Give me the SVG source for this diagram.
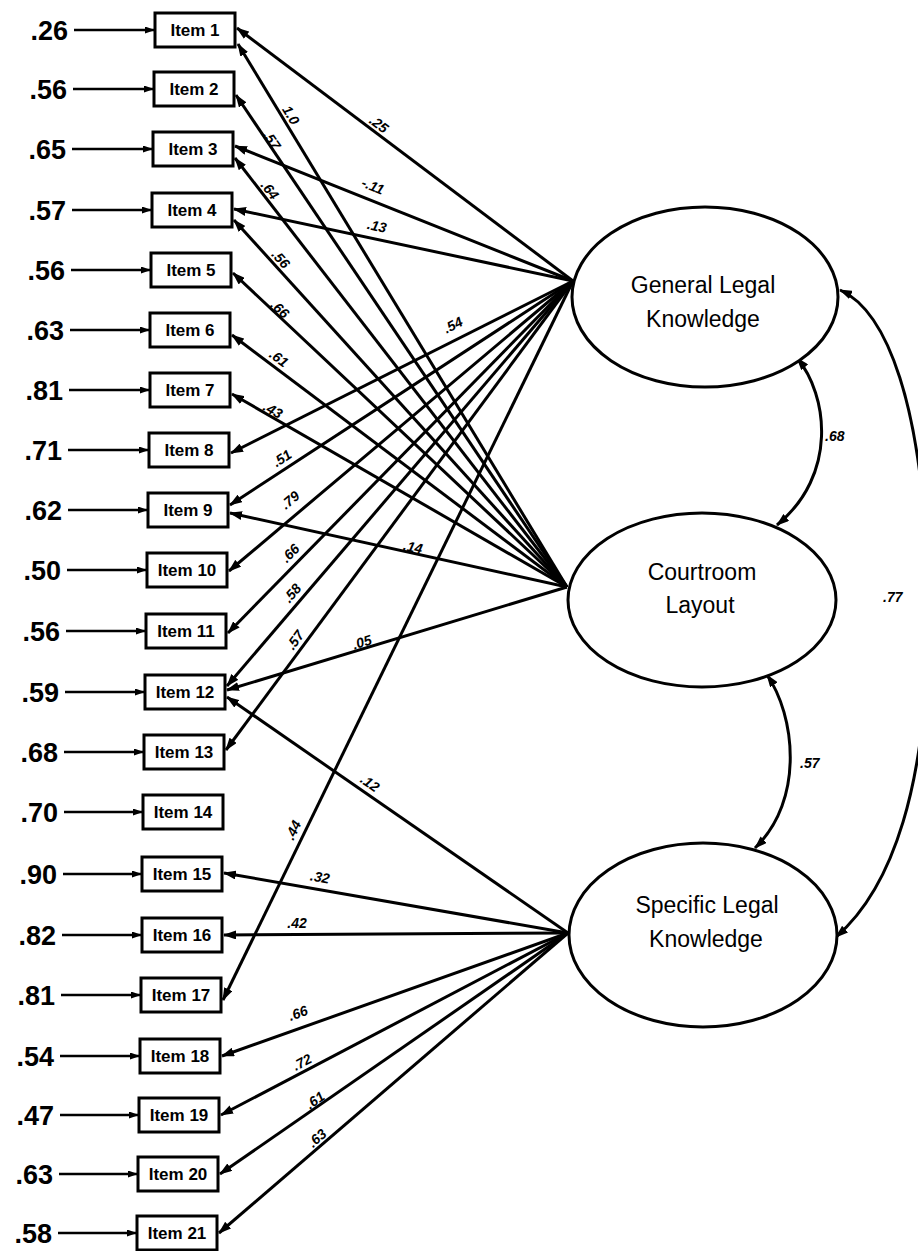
<svg xmlns="http://www.w3.org/2000/svg" width="918" height="1251" viewBox="0 0 918 1251">
<defs>
<marker id="ah" markerUnits="userSpaceOnUse" markerWidth="13" markerHeight="9" refX="12" refY="4.5" orient="auto-start-reverse"><path d="M0,0 L13,4.5 L0,9 z" fill="#000"/></marker>
<marker id="as" markerUnits="userSpaceOnUse" markerWidth="10" markerHeight="7" refX="9" refY="3.5" orient="auto"><path d="M0,0 L10,3.5 L0,7 z" fill="#000"/></marker>
<style>
.ld{stroke:#000;stroke-width:3;fill:none;marker-end:url(#ah)}
.er{stroke:#000;stroke-width:2.5;fill:none;marker-end:url(#as)}
.cv{stroke:#000;stroke-width:3;fill:none;marker-start:url(#ah);marker-end:url(#ah)}
.box{fill:#fff;stroke:#000;stroke-width:3}
.lat{fill:#fff;stroke:#000;stroke-width:3}
.it{font-family:"Liberation Sans",Arial,sans-serif;font-weight:bold;font-size:17px;text-anchor:middle}
.ev{font-family:"Liberation Sans",Arial,sans-serif;font-weight:bold;font-size:27px;text-anchor:end}
.lt{font-family:"Liberation Sans",Arial,sans-serif;font-size:23px;text-anchor:middle}
.lb{font-family:"Liberation Sans",Arial,sans-serif;font-weight:bold;font-style:italic;font-size:14px;text-anchor:middle}
.cl{font-family:"Liberation Sans",Arial,sans-serif;font-weight:bold;font-style:italic;font-size:14px}
</style>
</defs>
<g id="connectors">
<line class="er" x1="74" y1="30" x2="154" y2="30"/>
<line class="er" x1="73" y1="89" x2="153" y2="89"/>
<line class="er" x1="72" y1="149" x2="152" y2="149"/>
<line class="er" x1="72" y1="210" x2="151" y2="210"/>
<line class="er" x1="71" y1="270" x2="150" y2="270"/>
<line class="er" x1="70" y1="330" x2="149" y2="330"/>
<line class="er" x1="69" y1="390" x2="149" y2="390"/>
<line class="er" x1="68" y1="450" x2="148" y2="450"/>
<line class="er" x1="68" y1="510" x2="147" y2="510"/>
<line class="er" x1="67" y1="570" x2="146" y2="570"/>
<line class="er" x1="66" y1="631" x2="145" y2="631"/>
<line class="er" x1="65" y1="692" x2="144" y2="692"/>
<line class="er" x1="64" y1="752" x2="143" y2="752"/>
<line class="er" x1="64" y1="812" x2="142" y2="812"/>
<line class="er" x1="63" y1="874" x2="141" y2="874"/>
<line class="er" x1="62" y1="935" x2="141" y2="935"/>
<line class="er" x1="61" y1="995" x2="140" y2="995"/>
<line class="er" x1="60" y1="1056" x2="139" y2="1056"/>
<line class="er" x1="60" y1="1115" x2="138" y2="1115"/>
<line class="er" x1="59" y1="1174" x2="137" y2="1174"/>
<line class="er" x1="58" y1="1233" x2="136" y2="1233"/>

<line class="ld" x1="573" y1="281" x2="237" y2="28"/>
<line class="ld" x1="567" y1="587" x2="238" y2="44"/>
<line class="ld" x1="567" y1="587" x2="236" y2="95"/>
<line class="ld" x1="573" y1="281" x2="235" y2="146"/>
<line class="ld" x1="567" y1="587" x2="235" y2="158"/>
<line class="ld" x1="573" y1="281" x2="234" y2="209"/>
<line class="ld" x1="567" y1="587" x2="234" y2="220"/>
<line class="ld" x1="567" y1="587" x2="233" y2="273"/>
<line class="ld" x1="567" y1="587" x2="232" y2="335"/>
<line class="ld" x1="567" y1="587" x2="232" y2="394"/>
<line class="ld" x1="573" y1="281" x2="231" y2="453"/>
<line class="ld" x1="573" y1="281" x2="230" y2="505"/>
<line class="ld" x1="567" y1="587" x2="230" y2="513"/>
<line class="ld" x1="573" y1="281" x2="229" y2="571"/>
<line class="ld" x1="573" y1="281" x2="228" y2="633"/>
<line class="ld" x1="573" y1="281" x2="227" y2="686"/>
<line class="ld" x1="567" y1="587" x2="227" y2="690"/>
<line class="ld" x1="568" y1="933" x2="227" y2="697"/>
<line class="ld" x1="573" y1="281" x2="226" y2="750"/>
<line class="ld" x1="573" y1="281" x2="223" y2="1000"/>
<line class="ld" x1="568" y1="933" x2="224" y2="873"/>
<line class="ld" x1="568" y1="933" x2="224" y2="935"/>
<line class="ld" x1="568" y1="933" x2="222" y2="1056"/>
<line class="ld" x1="568" y1="933" x2="221" y2="1115"/>
<line class="ld" x1="568" y1="933" x2="220" y2="1174"/>
<line class="ld" x1="568" y1="933" x2="219" y2="1233"/>

<path class="cv" d="M797,358 C828,395 838,475 777,525"/>
<path class="cv" d="M767,675 C795,715 805,800 755,848"/>
<path class="cv" d="M840,290 C885,310 925,400 928,600 C930,790 890,890 836,937"/>

<text class="lb" transform="translate(379 124) rotate(37)" y="5">.25</text>
<text class="lb" transform="translate(291 115) rotate(59)" y="5">1.0</text>
<text class="lb" transform="translate(272 140) rotate(56)" y="5">.57</text>
<text class="lb" transform="translate(373 186) rotate(22)" y="5">-.11</text>
<text class="lb" transform="translate(270 190) rotate(52)" y="5">.64</text>
<text class="lb" transform="translate(377 226) rotate(12)" y="5">.13</text>
<text class="lb" transform="translate(281 259) rotate(48)" y="5">.56</text>
<text class="lb" transform="translate(280 309) rotate(43)" y="5">.66</text>
<text class="lb" transform="translate(279 358) rotate(37)" y="5">.61</text>
<text class="lb" transform="translate(273 410) rotate(30)" y="5">.43</text>
<text class="lb" transform="translate(453 325) rotate(-27)" y="5">.54</text>
<text class="lb" transform="translate(282 458) rotate(-33)" y="5">.51</text>
<text class="lb" transform="translate(413 547) rotate(12)" y="5">.14</text>
<text class="lb" transform="translate(290 500) rotate(-40)" y="5">.79</text>
<text class="lb" transform="translate(290 553) rotate(-45)" y="5">.66</text>
<text class="lb" transform="translate(292 593) rotate(-49)" y="5">.58</text>
<text class="lb" transform="translate(295 640) rotate(-54)" y="5">.57</text>
<text class="lb" transform="translate(362 642) rotate(-17)" y="5">.05</text>
<text class="lb" transform="translate(293 830) rotate(-64)" y="5">.44</text>
<text class="lb" transform="translate(370 783) rotate(35)" y="5">.12</text>
<text class="lb" transform="translate(320 877) rotate(10)" y="5">.32</text>
<text class="lb" transform="translate(297 923)" y="5">.42</text>
<text class="lb" transform="translate(298 1013) rotate(-20)" y="5">.66</text>
<text class="lb" transform="translate(302 1062) rotate(-28)" y="5">.72</text>
<text class="lb" transform="translate(315 1100) rotate(-35)" y="5">.61</text>
<text class="lb" transform="translate(317 1138) rotate(-41)" y="5">.63</text>

<text class="cl" x="825" y="441">.68</text>
<text class="cl" x="800" y="768">.57</text>
<text class="cl" x="883" y="602">.77</text>
</g>

<g id="item1"><text class="ev" x="68" y="40">.26</text><rect class="box" x="155" y="13" width="80" height="34"/><text class="it" x="195" y="36">Item 1</text></g>
<g id="item2"><text class="ev" x="67" y="99">.56</text><rect class="box" x="154" y="72" width="80" height="34"/><text class="it" x="194" y="95">Item 2</text></g>
<g id="item3"><text class="ev" x="66" y="159">.65</text><rect class="box" x="153" y="132" width="80" height="34"/><text class="it" x="193" y="155">Item 3</text></g>
<g id="item4"><text class="ev" x="66" y="220">.57</text><rect class="box" x="152" y="193" width="80" height="34"/><text class="it" x="192" y="216">Item 4</text></g>
<g id="item5"><text class="ev" x="65" y="280">.56</text><rect class="box" x="151" y="253" width="80" height="34"/><text class="it" x="191" y="276">Item 5</text></g>
<g id="item6"><text class="ev" x="64" y="340">.63</text><rect class="box" x="150" y="313" width="80" height="34"/><text class="it" x="190" y="336">Item 6</text></g>
<g id="item7"><text class="ev" x="63" y="400">.81</text><rect class="box" x="150" y="373" width="80" height="34"/><text class="it" x="190" y="396">Item 7</text></g>
<g id="item8"><text class="ev" x="62" y="460">.71</text><rect class="box" x="149" y="433" width="80" height="34"/><text class="it" x="189" y="456">Item 8</text></g>
<g id="item9"><text class="ev" x="62" y="520">.62</text><rect class="box" x="148" y="493" width="80" height="34"/><text class="it" x="188" y="516">Item 9</text></g>
<g id="item10"><text class="ev" x="61" y="580">.50</text><rect class="box" x="147" y="553" width="80" height="34"/><text class="it" x="187" y="576">Item 10</text></g>
<g id="item11"><text class="ev" x="60" y="641">.56</text><rect class="box" x="146" y="614" width="80" height="34"/><text class="it" x="186" y="637">Item 11</text></g>
<g id="item12"><text class="ev" x="59" y="702">.59</text><rect class="box" x="145" y="675" width="80" height="34"/><text class="it" x="185" y="698">Item 12</text></g>
<g id="item13"><text class="ev" x="58" y="762">.68</text><rect class="box" x="144" y="735" width="80" height="34"/><text class="it" x="184" y="758">Item 13</text></g>
<g id="item14"><text class="ev" x="58" y="822">.70</text><rect class="box" x="143" y="795" width="80" height="34"/><text class="it" x="183" y="818">Item 14</text></g>
<g id="item15"><text class="ev" x="57" y="884">.90</text><rect class="box" x="142" y="857" width="80" height="34"/><text class="it" x="182" y="880">Item 15</text></g>
<g id="item16"><text class="ev" x="56" y="945">.82</text><rect class="box" x="142" y="918" width="80" height="34"/><text class="it" x="182" y="941">Item 16</text></g>
<g id="item17"><text class="ev" x="55" y="1005">.81</text><rect class="box" x="141" y="978" width="80" height="34"/><text class="it" x="181" y="1001">Item 17</text></g>
<g id="item18"><text class="ev" x="54" y="1066">.54</text><rect class="box" x="140" y="1039" width="80" height="34"/><text class="it" x="180" y="1062">Item 18</text></g>
<g id="item19"><text class="ev" x="54" y="1125">.47</text><rect class="box" x="139" y="1098" width="80" height="34"/><text class="it" x="179" y="1121">Item 19</text></g>
<g id="item20"><text class="ev" x="53" y="1184">.63</text><rect class="box" x="138" y="1157" width="80" height="34"/><text class="it" x="178" y="1180">Item 20</text></g>
<g id="item21"><text class="ev" x="52" y="1243">.58</text><rect class="box" x="137" y="1216" width="80" height="34"/><text class="it" x="177" y="1239">Item 21</text></g>

<g id="general"><ellipse class="lat" cx="705" cy="297" rx="133" ry="90"/><text class="lt" x="703" y="293">General Legal</text><text class="lt" x="703" y="327">Knowledge</text></g>
<g id="courtroom"><ellipse class="lat" cx="702" cy="600" rx="134" ry="87"/><text class="lt" x="702" y="580">Courtroom</text><text class="lt" x="700" y="613">Layout</text></g>
<g id="specific"><ellipse class="lat" cx="703" cy="935" rx="134" ry="92"/><text class="lt" x="707" y="913">Specific Legal</text><text class="lt" x="706" y="947">Knowledge</text></g>
</svg>
